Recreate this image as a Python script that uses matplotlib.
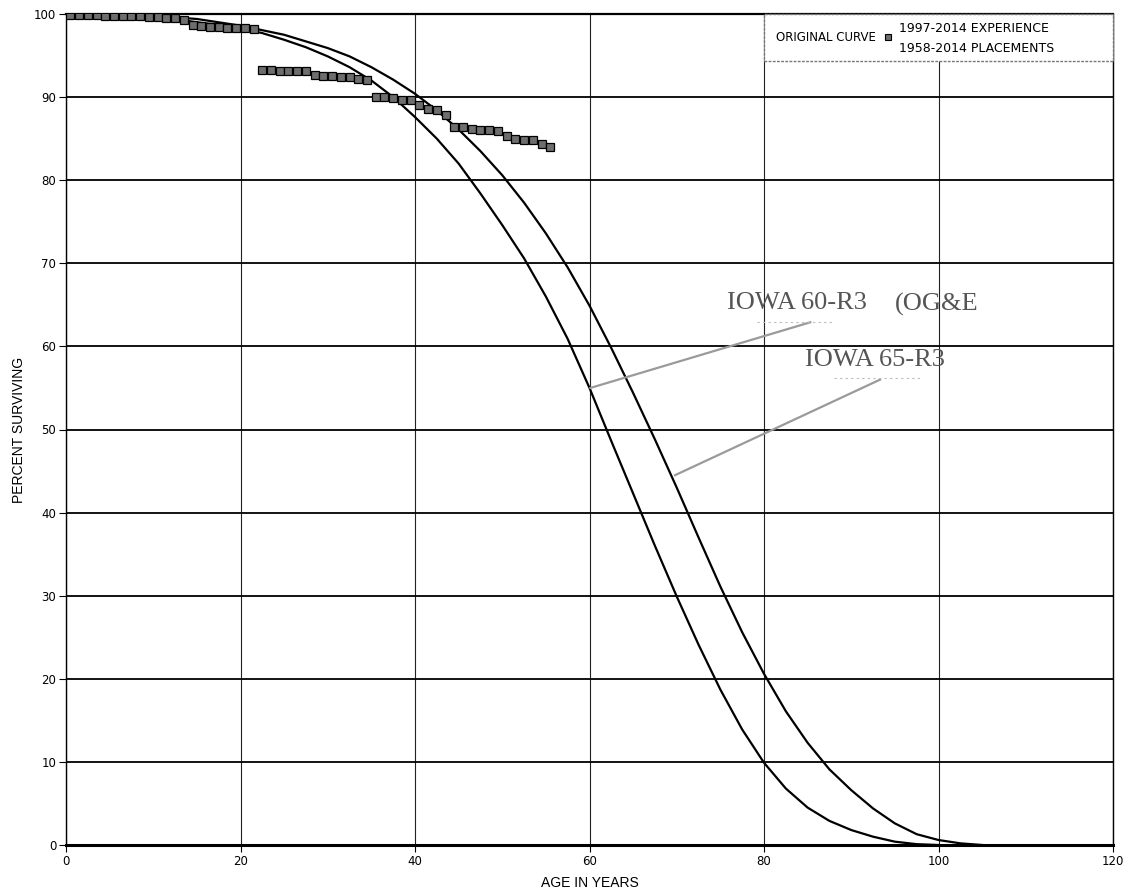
import numpy as np
import matplotlib
matplotlib.use("Agg")
import matplotlib.pyplot as plt
from matplotlib.patches import Rectangle

# Iowa curves, values
age_60r3 = [0, 2.5, 5, 7.5, 10, 12.5, 15, 17.5, 20, 22.5, 25, 27.5, 30, 32.5, 35, 37.5,
            40, 42.5, 45, 47.5, 50, 52.5, 55, 57.5, 60, 62.5, 65, 67.5, 70, 72.5, 75,
            77.5, 80, 82.5, 85, 87.5, 90, 92.5, 95, 97.5, 100]
pct_60r3 = [100, 100, 99.9, 99.8, 99.6, 99.4, 99.0, 98.7, 98.3, 97.7, 96.9, 96.0, 94.9,
            93.6, 92.0, 90.0, 87.6, 85.0, 82.0, 78.4, 74.6, 70.6, 66.0, 60.9, 55.0, 48.6,
            42.3, 36.0, 29.9, 24.1, 18.7, 13.9, 9.9, 6.8, 4.5, 2.9, 1.8, 1.0, 0.4, 0.1, 0]

age_65r3 = [0, 5, 10, 15, 20, 25, 30, 32.5, 35, 37.5, 40, 42.5, 45, 47.5, 50, 52.5, 55,
            57.5, 60, 62.5, 65, 67.5, 70, 72.5, 75, 77.5, 80, 82.5, 85, 87.5, 90, 92.5,
            95, 97.5, 100, 102.5, 105]
pct_65r3 = [100, 99.95, 99.8, 99.4, 98.6, 97.5, 95.9, 94.9, 93.6, 92.1, 90.4, 88.4, 86.1,
            83.5, 80.6, 77.3, 73.6, 69.5, 64.9, 59.8, 54.4, 48.8, 43.0, 37.0, 31.1, 25.6,
            20.6, 16.1, 12.3, 9.1, 6.6, 4.4, 2.6, 1.3, 0.6, 0.2, 0]

# 1997-2014 experience, 1958-2014 placements (one point per age interval)
exp_age = np.arange(0.5, 56, 1.0)
exp_pct = [99.9, 99.9, 99.9, 99.85, 99.8, 99.8, 99.75, 99.7, 99.7, 99.65, 99.6, 99.55, 99.5, 99.3,
           98.7, 98.5, 98.4, 98.4, 98.3, 98.3, 98.3, 98.2,
           93.3, 93.3, 93.2, 93.2, 93.2, 93.1,
           92.6, 92.5, 92.5, 92.4, 92.4, 92.2, 92.0,
           90.0, 90.0, 89.9, 89.7, 89.6,
           89.0, 88.6, 88.4, 87.8,
           86.4, 86.4, 86.2, 86.1, 86.0, 85.9, 85.3,
           84.9, 84.8, 84.8, 84.3, 84.0]

x_ticks = [0, 20, 40, 60, 80, 100, 120]
y_ticks = [0, 10, 20, 30, 40, 50, 60, 70, 80, 90, 100]

fig = plt.figure(figsize=(11.28, 8.94), dpi=100)
ax = fig.add_axes([66 / 1128, 49 / 894, (1113 - 66) / 1128, (845 - 14) / 894])

ax.set_xlim(0, 120)
ax.set_ylim(0, 100)
ax.set_xticks(x_ticks)
ax.set_yticks(y_ticks)
ax.tick_params(labelsize=8.5, length=5, width=0.8, color='black', pad=2)
ax.xaxis.grid(True, color='#222222', lw=0.8)
ax.yaxis.grid(True, color='black', lw=1.3)
ax.set_axisbelow(True)
for s in ax.spines.values():
    s.set_color('black')
    s.set_linewidth(1.0)
ax.spines['bottom'].set_linewidth(2.2)
ax.spines['top'].set_linewidth(1.6)

ax.plot(age_60r3, pct_60r3, color='black', lw=1.6, zorder=3)
ax.plot(age_65r3, pct_65r3, color='black', lw=1.6, zorder=3)
ax.plot(exp_age, exp_pct, ls='none', marker='s', ms=5.2, mfc='#6e6e6e', mec='black',
        mew=0.9, zorder=4)

ax.set_xlabel("AGE IN YEARS", fontsize=10, family='Liberation Sans', labelpad=6)
ax.set_ylabel("PERCENT SURVIVING", fontsize=10, family='Liberation Sans', labelpad=6)

# legend box in the top right corner
ax.add_patch(Rectangle((0.667, 0.944), 0.333, 0.056, transform=ax.transAxes,
                       facecolor='white', edgecolor='#777777', lw=1.0, ls=(0, (2, 1)),
                       zorder=6, clip_on=False))
ax.text(0.678, 0.972, "ORIGINAL CURVE", transform=ax.transAxes, fontsize=8.5,
        va='center', ha='left', zorder=7)
ax.plot([0.785], [0.972], transform=ax.transAxes, marker='s', ms=4.5, mfc='#6e6e6e',
        mec='black', mew=0.8, zorder=7, clip_on=False)
ax.text(0.796, 0.983, "1997-2014 EXPERIENCE", transform=ax.transAxes, fontsize=9,
        va='center', ha='left', zorder=7)
ax.text(0.796, 0.959, "1958-2014 PLACEMENTS", transform=ax.transAxes, fontsize=9,
        va='center', ha='left', zorder=7)

# hand-added curve labels with leader lines
ax.plot([60.1, 85.3], [55.0, 62.9], color='#9a9a9a', lw=1.6, zorder=5)
ax.plot([69.8, 93.3], [44.5, 56.0], color='#9a9a9a', lw=1.6, zorder=5)
ax.plot([79.2, 88.0], [62.9, 62.9], color='#bbbbbb', lw=0.8, ls=(0, (2, 3)), zorder=5)
ax.plot([88.0, 98.0], [56.2, 56.2], color='#bbbbbb', lw=0.8, ls=(0, (2, 3)), zorder=5)
ax.text(75.8, 65.2, "IOWA 60-R3", fontsize=19, family='Liberation Serif',
        color='#555555', va='center', ha='left', zorder=6)
ax.text(95.0, 65.0, "(OG&E", fontsize=19, family='Liberation Serif',
        color='#555555', va='center', ha='left', zorder=6)
ax.text(84.7, 58.4, "IOWA 65-R3", fontsize=19, family='Liberation Serif',
        color='#555555', va='center', ha='left', zorder=6)

fig.savefig("out.png", dpi=100, facecolor='white')
